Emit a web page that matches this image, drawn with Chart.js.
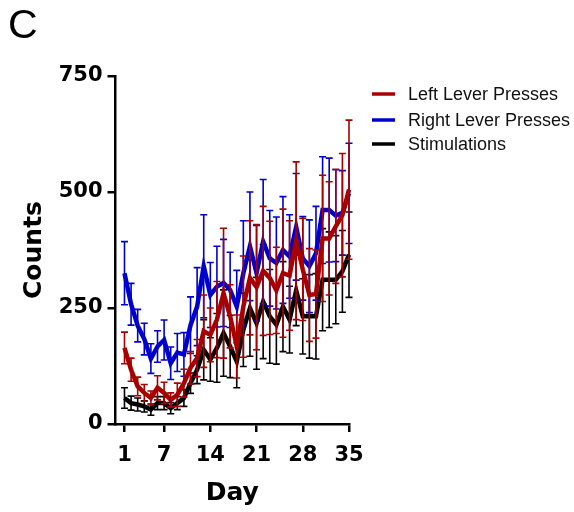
<!DOCTYPE html>
<html>
<head>
<meta charset="utf-8">
<script src="https://cdn.jsdelivr.net/npm/chart.js@4.4.1/dist/chart.umd.min.js"></script>
<style>
html,body{margin:0;padding:0;background:#fff;}
#wrap{width:574px;height:512px;position:relative;}
</style>
</head>
<body>
<div id="wrap"><canvas id="c" width="574" height="512"></canvas></div>
<script>
// ---- data ----
const days = [1,2,3,4,5,6,7,8,9,10,11,12,13,14,15,16,17,18,19,20,21,22,23,24,25,26,27,28,29,30,31,32,33,34,35];
const xTicks = [1,7,14,21,28,35];
const yTicks = [0,250,500,750];
const seriesNames = ['Left Lever Presses','Right Lever Presses','Stimulations'];

const leftLever    = [164,117,81,67,56,78,67,52,63,88,121,142,200,192,225,282,232,167,253,315,295,330,315,288,325,320,395,333,278,280,400,400,426,450,505];
const leftLeverErr = [34,25,20,18,15,26,23,15,25,30,35,40,78,58,82,140,68,68,109,123,135,139,122,93,138,118,170,110,100,95,136,122,123,133,150];

const rightLever    = [325,258,212,183,141,167,181,131,154,150,213,253,340,278,296,304,289,253,325,383,325,393,357,347,375,361,425,357,340,368,461,461,449,455,497];
const rightLeverErr = [68,45,35,34,32,34,43,35,41,47,61,84,111,70,87,94,81,78,113,117,103,134,103,99,115,90,115,90,100,101,115,112,99,91,108];

const stimulations    = [56,45,42,38,31,45,45,34,45,56,88,117,160,139,164,196,167,135,203,250,217,264,232,214,253,225,288,232,232,232,311,311,311,329,365];
const stimulationsErr = [22,15,14,12,12,14,14,12,14,18,22,30,65,47,74,93,67,57,79,104,99,123,101,85,97,72,76,81,90,92,110,103,95,88,92];

const colors = ['#A80000','#0000CC','#000000'];

function pts(arr){ return days.map((d,i)=>({x:d, y:arr[i]})); }

// ---- plugins ----
const errorBars = {
  id:'errorBars',
  beforeDatasetDraw(chart, args){
    const ds = chart.data.datasets[args.index];
    const errs = ds.errs;
    if(!errs) return;
    const ys = chart.scales.y;
    const ctx = chart.ctx;
    ctx.save();
    ctx.strokeStyle = ds.borderColor;
    ctx.lineWidth = 1.6;
    ctx.lineCap = 'butt';
    args.meta.data.forEach((p,i)=>{
      const v = ds.data[i].y;
      const t = ys.getPixelForValue(v + errs[i]);
      const b = ys.getPixelForValue(Math.max(0, v - errs[i]));
      const x = p.x;
      ctx.beginPath();
      ctx.moveTo(x,t); ctx.lineTo(x,b);
      ctx.moveTo(x-3.5,t); ctx.lineTo(x+3.5,t);
      ctx.moveTo(x-3.5,b); ctx.lineTo(x+3.5,b);
      ctx.stroke();
    });
    ctx.restore();
  }
};

const decorations = {
  id:'decorations',
  afterDraw(chart){
    const ctx = chart.ctx;
    ctx.save();
    // panel letter
    ctx.fillStyle = '#000';
    ctx.font = '41px "Liberation Sans", Arial, sans-serif';
    ctx.textBaseline = 'alphabetic';
    ctx.textAlign = 'left';
    ctx.fillText('C', 8, 38);
    // legend
    const rows = [94,120,144];
    ctx.font = '18px "Liberation Sans", Arial, sans-serif';
    ctx.textBaseline = 'middle';
    seriesNames.forEach((n,i)=>{
      ctx.strokeStyle = colors[i];
      ctx.lineWidth = 3.5;
      ctx.beginPath();
      ctx.moveTo(372, rows[i]); ctx.lineTo(395, rows[i]);
      ctx.stroke();
      ctx.fillStyle = '#111';
      ctx.fillText(n, 408, rows[i]+1);
    });
    ctx.restore();
  }
};

const tickFont = {family:'"DejaVu Sans", sans-serif', weight:'bold', size:21};
const titleFont = {family:'"DejaVu Sans", sans-serif', weight:'bold', size:25};

new Chart(document.getElementById('c'), {
  type:'line',
  data:{
    datasets:[
      {label:seriesNames[0], data:pts(leftLever), errs:leftLeverErr, borderColor:colors[0], backgroundColor:colors[0], borderWidth:4.5, pointRadius:0, tension:0, clip:false},
      {label:seriesNames[1], data:pts(rightLever), errs:rightLeverErr, borderColor:colors[1], backgroundColor:colors[1], borderWidth:4.5, pointRadius:0, tension:0, clip:false},
      {label:seriesNames[2], data:pts(stimulations), errs:stimulationsErr, borderColor:colors[2], backgroundColor:colors[2], borderWidth:4.5, pointRadius:0, tension:0, clip:false}
    ]
  },
  options:{
    responsive:false,
    devicePixelRatio:1,
    animation:false,
    layout:{padding:{top:76,right:225,bottom:0,left:0}},
    plugins:{legend:{display:false}, tooltip:{enabled:false}},
    scales:{
      x:{
        type:'linear', min:-0.36, max:35,
        afterBuildTicks:s=>{ s.ticks = xTicks.map(v=>({value:v})); },
        afterFit:s=>{ s.height = 88; },
        grid:{display:true, drawOnChartArea:false, drawTicks:true, tickLength:8, lineWidth:2.5, color:'#000'},
        border:{display:true, width:2.5, color:'#000'},
        ticks:{font:tickFont, color:'#000', padding:11, maxRotation:0, autoSkip:false},
        title:{display:true, text:'Day', font:titleFont, color:'#000', padding:{top:2,bottom:4}}
      },
      y:{
        min:0, max:750,
        afterBuildTicks:s=>{ s.ticks = yTicks.map(v=>({value:v})); },
        afterFit:s=>{ s.width = 115.5; },
        grid:{display:true, drawOnChartArea:false, drawTicks:true, tickLength:8, lineWidth:2.5, color:'#000'},
        border:{display:true, width:2.5, color:'#000'},
        ticks:{font:tickFont, color:'#000', padding:5},
        title:{display:true, text:'Counts', font:titleFont, color:'#000', padding:{top:19,bottom:0}}
      }
    }
  },
  plugins:[errorBars, decorations]
});
</script>
</body>
</html>
